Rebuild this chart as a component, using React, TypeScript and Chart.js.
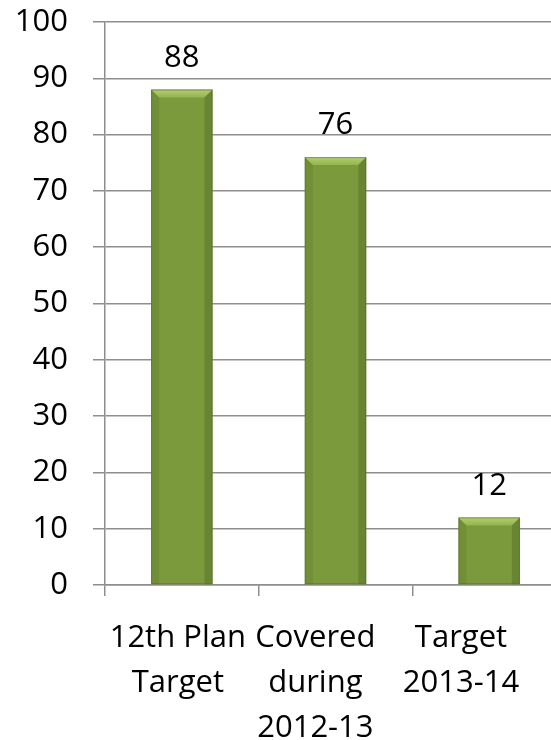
import React, { useEffect, useRef } from "react";
import { Chart, registerables } from "chart.js";

Chart.register(...registerables);

const categories: string[][] = [["12th Plan", "Target"], ["Covered", "during", "2012-13"], ["Target", "2013-14"]];
const values: number[] = [88, 76, 12];
const yMin = 0;
const yMax = 100;
const yStep = 10;

const FONT = "'Open Sans', 'DejaVu Sans', sans-serif";
// trailing blanks nudge each centred category label leftwards, as in the reference
const labelNudge = [1, 5, 7];

const bevelPlugin = {
  id: "bevel",
  afterDatasetsDraw(chart: any) {
    const ctx = chart.ctx;
    const meta = chart.getDatasetMeta(0);
    meta.data.forEach((bar: any, i: number) => {
      const { x, y, base, width } = bar.getProps(["x", "y", "base", "width"], true);
      const l = x - width / 2;
      const r = x + width / 2;
      const b = 8;
      ctx.save();
      const tg = ctx.createLinearGradient(0, y, 0, y + b);
      tg.addColorStop(0, "#b4d070");
      tg.addColorStop(1, "#93b34f");
      ctx.fillStyle = tg;
      ctx.beginPath();
      ctx.moveTo(l, y);
      ctx.lineTo(r, y);
      ctx.lineTo(r - b, y + b);
      ctx.lineTo(l + b, y + b);
      ctx.closePath();
      ctx.fill();
      ctx.fillStyle = "rgba(60,80,20,0.15)";
      ctx.beginPath();
      ctx.moveTo(l, y);
      ctx.lineTo(l + b, y + b);
      ctx.lineTo(l + b, base);
      ctx.lineTo(l, base);
      ctx.closePath();
      ctx.fill();
      ctx.fillStyle = "rgba(50,70,15,0.25)";
      ctx.beginPath();
      ctx.moveTo(r, y);
      ctx.lineTo(r - b, y + b);
      ctx.lineTo(r - b, base);
      ctx.lineTo(r, base);
      ctx.closePath();
      ctx.fill();
      ctx.strokeStyle = "rgba(80,100,35,0.5)";
      ctx.lineWidth = 1;
      ctx.strokeRect(l + 0.5, y + 0.5, width - 1, base - y - 1);
      ctx.fillStyle = "#000";
      ctx.font = `31px ${FONT}`;
      ctx.textAlign = "center";
      ctx.textBaseline = "bottom";
      ctx.fillText(String(values[i]), x, y - 16);
      ctx.restore();
    });
  },
};

export default function App() {
  const ref = useRef<HTMLCanvasElement | null>(null);
  useEffect(() => {
    if (!ref.current) return;
    const chart = new Chart(ref.current, {
      type: "bar",
      data: {
        labels: categories,
        datasets: [
          {
            data: values,
            backgroundColor: (c: any) => {
              const area = c.chart.chartArea;
              const el = c.element;
              if (!area || !el) return "#7a9a3c";
              const { x, width } = el.getProps(["x", "width"], true);
              if (!width) return "#7a9a3c";
              const g = c.chart.ctx.createLinearGradient(x - width / 2, 0, x + width / 2, 0);
              g.addColorStop(0, "#789a38");
              g.addColorStop(0.5, "#82a442");
              g.addColorStop(1, "#76963a");
              return g;
            },
            borderWidth: 0,
            barPercentage: 0.4,
            categoryPercentage: 1,
          },
        ],
      },
      options: {
        responsive: false,
        animation: false,
        layout: { padding: { left: 0, top: 0, right: 14, bottom: 0 } },
        plugins: { legend: { display: false }, tooltip: { enabled: false } },
        scales: {
          y: {
            min: yMin,
            max: yMax,
            ticks: { stepSize: yStep, color: "#000", font: { family: FONT, size: 31 }, padding: 25 },
            grid: { color: "#8e8e8e", lineWidth: 1.5, tickLength: 12 },
            border: { color: "#8e8e8e", width: 1.5 },
            afterFit: (s: any) => {
              s.width = 105;
              s.paddingTop = 22;
              s.paddingBottom = 0;
            },
          },
          x: {
            ticks: {
              color: "#000",
              font: { family: FONT, size: 31, lineHeight: 1.45 },
              padding: 20,
              maxRotation: 0,
              autoSkip: false,
              callback: (_v: any, i: number) =>
                categories[i].map((line) => line + "\u00a0".repeat(labelNudge[i])),
            },
            grid: { drawOnChartArea: false, color: "#8e8e8e", lineWidth: 1.5, tickLength: 11, offset: true },
            border: { color: "#8e8e8e", width: 1.5 },
            afterFit: (s: any) => {
              s.height = 155;
              s.paddingLeft = 0;
              s.paddingRight = 0;
            },
          },
        },
      },
      plugins: [bevelPlugin],
    });
    return () => chart.destroy();
  }, []);
  return (
    <div style={{ position: "absolute", left: 0, top: 0, width: 551, height: 740, overflow: "hidden", background: "#fff" }}>
      <canvas ref={ref} width={580} height={740} />
    </div>
  );
}
